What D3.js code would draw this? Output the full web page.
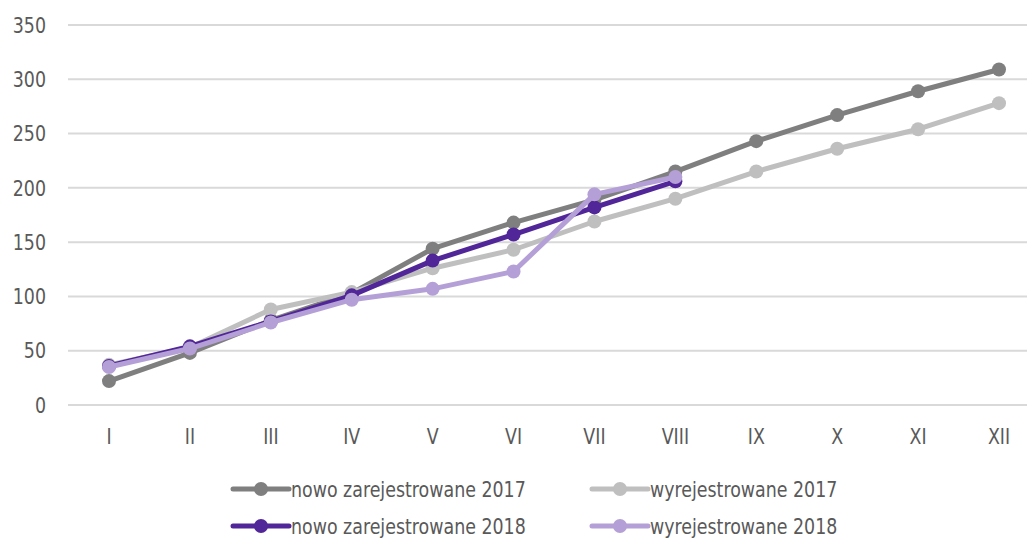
<!doctype html>
<html lang="pl">
<head>
  <meta charset="utf-8">
  <title>Rejestracje 2017-2018</title>
  <style>
    body { margin: 0; background: #fff; }
    svg { display: block; }
    text {
      font-family: "Liberation Sans Narrow", "DejaVu Sans Condensed", "Roboto", sans-serif;
      fill: #595959;
    }
    .grid line { stroke: #d9d9d9; stroke-width: 2; }
    .axis text { font-size: 22px; }
    .legend text { font-size: 22px; }
  </style>
</head>
<body>
<script src="https://cdn.jsdelivr.net/npm/d3@7/dist/d3.min.js"></script>
<script>
(function() {

var months = ['I', 'II', 'III', 'IV', 'V', 'VI', 'VII', 'VIII', 'IX', 'X', 'XI', 'XII'];
var yTicks = [0, 50, 100, 150, 200, 250, 300, 350];

var nowe2017 = [22, 48, 78, 103, 144, 168, 189, 215, 243, 267, 289, 309];
var wyrej2017 = [37, 53, 88, 104, 126, 143, 169, 190, 215, 236, 254, 278];
var nowe2018 = [36, 54, 77, 101, 133, 157, 182, 206];
var wyrej2018 = [35, 52, 76, 97, 107, 123, 194, 210];

var seriesNames = ['nowo zarejestrowane 2017', 'wyrejestrowane 2017',
                   'nowo zarejestrowane 2018', 'wyrejestrowane 2018'];
var seriesColors = ['#7f7f7f', '#bfbfbf', '#512698', '#b4a0d6'];

var series = [nowe2017, wyrej2017, nowe2018, wyrej2018].map(function(v, i) {
  return { name: seriesNames[i], color: seriesColors[i], values: v };
});

var width = 1027, height = 540;
var squeeze = 0.88; // narrow the glyphs, the original font is condensed

var svg = d3.select('body').append('svg')
    .attr('width', width)
    .attr('height', height);

var x = d3.scalePoint()
    .domain(months)
    .range([109, 999]);

var y = d3.scaleLinear()
    .domain([0, 350])
    .range([405, 25]);

// gridlines
svg.append('g').attr('class', 'grid')
  .selectAll('line').data(yTicks).enter().append('line')
    .attr('x1', 68).attr('x2', width)
    .attr('y1', function(d) { return y(d); })
    .attr('y2', function(d) { return y(d); });

// y labels
svg.append('g').attr('class', 'axis')
  .selectAll('text').data(yTicks).enter().append('text')
    .attr('transform', function(d) {
      return 'translate(46,' + y(d) + ') scale(' + squeeze + ',1)';
    })
    .attr('dy', '0.35em')
    .attr('text-anchor', 'end')
    .text(function(d) { return d; });

// x labels
svg.append('g').attr('class', 'axis')
  .selectAll('text').data(months).enter().append('text')
    .attr('transform', function(d) {
      return 'translate(' + x(d) + ',436) scale(' + squeeze + ',1)';
    })
    .attr('dy', '0.35em')
    .attr('text-anchor', 'middle')
    .text(function(d) { return d; });

var line = d3.line()
    .x(function(d, i) { return x(months[i]); })
    .y(function(d) { return y(d); });

var g = svg.selectAll('.series').data(series).enter().append('g')
    .attr('class', 'series');

g.append('path')
    .attr('d', function(d) { return line(d.values); })
    .attr('fill', 'none')
    .attr('stroke', function(d) { return d.color; })
    .attr('stroke-width', 5)
    .attr('stroke-linejoin', 'round');

g.selectAll('circle').data(function(d) {
    return d.values.map(function(v) { return { v: v, color: d.color }; });
  }).enter().append('circle')
    .attr('cx', function(d, i) { return x(months[i]); })
    .attr('cy', function(d) { return y(d.v); })
    .attr('r', 7)
    .attr('fill', function(d) { return d.color; });

// legend
var legendPos = [[233, 489], [592, 489], [233, 526], [592, 526]];

var lg = svg.append('g').attr('class', 'legend')
  .selectAll('g').data(series).enter().append('g')
    .attr('transform', function(d, i) {
      return 'translate(' + legendPos[i][0] + ',' + legendPos[i][1] + ')';
    });

lg.append('line')
    .attr('x1', 0).attr('x2', 56)
    .attr('stroke', function(d) { return d.color; })
    .attr('stroke-width', 5)
    .attr('stroke-linecap', 'round');

lg.append('circle')
    .attr('cx', 28).attr('r', 7)
    .attr('fill', function(d) { return d.color; });

lg.append('text')
    .attr('transform', 'translate(58,0) scale(' + squeeze + ',1)')
    .attr('dy', '0.35em')
    .text(function(d) { return d.name; });

})();
</script>
</body>
</html>
